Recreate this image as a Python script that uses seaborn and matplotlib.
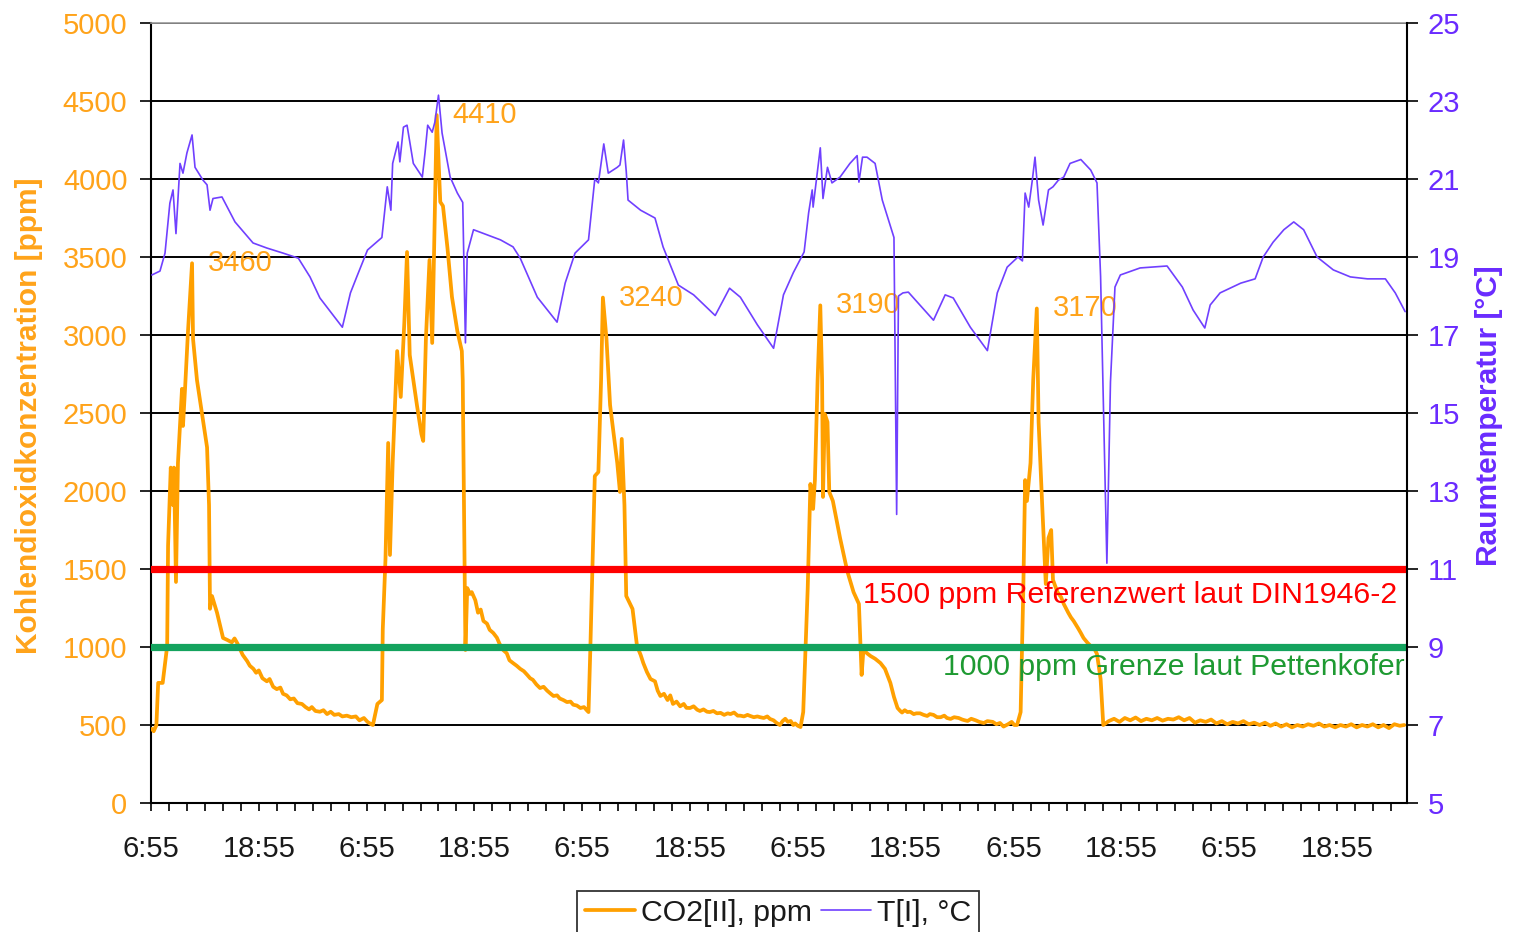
import numpy as np
import pandas as pd
import matplotlib
matplotlib.use("Agg")
import matplotlib.pyplot as plt
from matplotlib.ticker import FixedLocator, NullFormatter
import seaborn as sns

# ---------------- data (hours after 6:55 on day 1) ----------------
# CO2 readings, one block per day
day1_hours = [0.1, 0.3, 0.6, 0.8, 1.3, 1.8, 1.9, 2.2, 2.45, 2.56, 2.78, 3.0, 3.45, 3.56, 3.79, 4.12,
              4.57, 4.68, 5.12, 5.68, 6.24, 6.46, 6.57, 6.79, 7.35,
              8.02, 8.5, 9.0, 9.3, 9.6, 10.2, 10.7, 11.0, 11.4, 11.7, 12.0, 12.4, 12.9, 13.2, 13.6,
              14.0, 14.4, 14.7, 15.1, 15.5, 15.9, 16.3, 16.8, 17.2, 17.6, 17.9, 18.3, 18.8, 19.2,
              19.6, 20.0, 20.4, 20.9, 21.3, 21.8, 22.3, 22.8, 23.2, 23.7, 24.1, 24.5, 24.7]
day1_ppm = [475, 460, 500, 770, 770, 1006, 1650, 2150, 1910, 2150, 1417, 2180, 2655, 2417, 2655, 3025,
            3460, 2975, 2710, 2495, 2280, 1910, 1245, 1327, 1220,
            1058, 1045, 1030, 1055, 1025, 950, 910, 880, 860, 835, 850, 800, 780, 795, 745,
            730, 740, 700, 690, 665, 670, 640, 635, 615, 600, 615, 590, 585, 595,
            570, 585, 565, 570, 555, 560, 550, 555, 530, 545, 520, 505, 500]

day2_hours = [25.2, 25.7, 25.8, 26.1, 26.4, 26.6, 26.9, 27.4, 27.8, 28.2, 28.5, 28.8, 29.6, 30.1,
              30.3, 30.6, 31.0, 31.3, 31.5, 31.8, 32.2, 32.5, 33.0, 33.5, 34.1, 34.6, 34.7, 35.0,
              35.2, 35.5, 35.7, 36.1, 36.4, 36.7, 37.0, 37.4, 37.7, 38.1, 38.5, 38.8, 39.2, 39.6,
              39.9, 40.3, 40.7, 41.1, 41.5, 41.9, 42.2, 42.5, 42.9, 43.3, 43.7, 44.1, 44.5, 44.8,
              45.2, 45.5, 45.9, 46.3, 46.7, 47.0, 47.4, 47.8, 48.2, 48.5, 48.7]
day2_ppm = [635, 660, 1115, 1564, 2308, 1590, 2180, 2897, 2603, 3083, 3532, 2872, 2551, 2365,
            2321, 2975, 3481, 2949, 3506, 4410, 3853, 3827, 3558, 3244, 3025, 2897, 2710, 981,
            1378, 1340, 1352, 1300, 1220, 1240, 1167, 1150, 1110, 1090, 1060, 1020, 981, 960,
            915, 897, 880, 860, 845, 820, 800, 790, 760, 737, 745, 720, 700, 686,
            690, 670, 660, 647, 650, 630, 625, 609, 615, 595, 583]

day3_hours = [48.9, 49.2, 49.4, 49.8, 50.1, 50.3, 50.7, 51.1, 51.9, 52.2, 52.4, 52.7,
              52.9, 53.3, 53.6, 54.1, 54.5, 54.8, 55.2, 55.6, 56.1, 56.4, 56.7, 57.1, 57.5, 57.8,
              58.1, 58.5, 58.9, 59.3, 59.6, 60.0, 60.4, 60.8, 61.1, 61.5, 61.9, 62.2, 62.6, 63.0,
              63.4, 63.8, 64.2, 64.5, 64.9, 65.3, 65.6, 66.0, 66.4, 66.7, 67.1, 67.5, 67.8, 68.2,
              68.6, 68.9, 69.3, 69.6, 70.0, 70.3, 70.6, 70.9, 71.2, 71.5, 71.7, 72.0, 72.3]
day3_ppm = [981, 1648, 2096, 2122, 2712, 3240, 2975, 2551, 2180, 1994, 2334, 1910,
            1327, 1280, 1244, 1006, 950, 897, 840, 795, 780, 720, 686, 700, 660, 690,
            635, 650, 620, 635, 610, 609, 620, 598, 590, 600, 585, 583, 590, 575,
            578, 565, 575, 570, 580, 560, 560, 555, 565, 558, 550, 555, 550, 545,
            555, 539, 530, 515, 500, 525, 540, 520, 526, 500, 510, 495, 487]

day4_hours = [72.6, 73.1, 73.4, 73.7, 73.9, 74.2, 74.5, 74.7, 74.8, 75.0, 75.3, 75.5, 75.9, 76.7,
              77.5, 78.2, 78.8, 79.1,
              79.3, 79.7, 80.1, 80.6, 81.2, 81.7, 82.3, 82.7, 83.1, 83.4, 83.6, 83.9, 84.2, 84.5,
              84.9, 85.2, 85.6, 86.0, 86.4, 86.7, 87.1, 87.5, 87.9, 88.3, 88.6, 89.0, 89.4, 89.9,
              90.3, 90.6, 90.9, 91.3, 91.8, 92.2, 92.7, 93.1, 93.7, 94.1, 94.5, 94.9, 95.4, 95.8,
              96.1, 96.4]
day4_ppm = [583, 1378, 2045, 1885, 2070, 2712, 3190, 2712, 1962, 2494, 2442, 1994, 1936, 1699,
            1487, 1352, 1276, 821,
            981, 960, 942, 925, 897, 860, 770, 680, 609, 590, 580, 595, 583, 585,
            570, 575, 575, 565, 558, 570, 565, 550, 550, 560, 545, 539, 550, 545,
            535, 530, 526, 540, 530, 520, 513, 525, 520, 505, 513, 490, 505, 520,
            500, 500]

day5_hours = [96.8, 97.1, 97.3, 97.5, 97.9, 98.2, 98.6, 98.8, 99.2, 99.6, 99.9, 100.2, 100.4,
              100.9, 101.3, 101.6, 102.1, 102.4, 102.7, 103.2, 103.5, 103.8, 104.2, 104.6, 105.0,
              105.3, 105.7, 106.0]
day5_ppm = [583, 1378, 2070, 1936, 2180, 2712, 3170, 2442, 1910, 1404, 1699, 1750, 1430,
            1352, 1320, 1276, 1220, 1190, 1167, 1120, 1090, 1058, 1030, 1006, 990,
            955, 795, 500]

tail_hours = [106.6, 107.2, 107.8, 108.4, 109.0, 109.6, 110.2, 110.8, 111.4, 112.0, 112.6, 113.2,
              113.8, 114.4, 115.0, 115.6, 116.2, 116.8, 117.4, 118.0, 118.6, 119.2, 119.8, 120.4,
              121.0, 121.6, 122.2, 122.8, 123.4, 124.0, 124.6, 125.2, 125.8, 126.4, 127.0, 127.6,
              128.2, 128.8, 129.4, 130.0, 130.6, 131.2, 131.8, 132.4, 133.0, 133.6, 134.2, 134.8,
              135.4, 136.0, 136.6, 137.2, 137.8, 138.4, 139.0, 139.5]
tail_ppm = [525, 540, 520, 545, 530, 548, 525, 540, 530, 545, 528, 540,
            535, 550, 530, 545, 515, 530, 520, 535, 510, 525, 505, 520,
            510, 525, 505, 515, 500, 515, 495, 510, 490, 505, 485, 500,
            490, 505, 495, 510, 490, 500, 485, 500, 490, 505, 485, 500,
            490, 505, 485, 500, 480, 505, 495, 500]

temp_hours = [0.1, 1.0, 1.56, 2.1, 2.45, 2.78, 3.23, 3.56, 4.0, 4.57, 4.9, 5.79, 6.24, 6.57, 6.9, 7.9, 9.35,
              11.36, 12.9, 14.7, 16.4, 17.7, 18.8, 20.3, 21.3, 22.2, 22.9, 24.1, 25.7, 26.3, 26.7, 26.9,
              27.5, 27.7, 28.1, 28.5, 29.2, 30.2, 30.5, 30.8, 31.3, 31.6, 32.0, 32.4, 33.3, 34.1, 34.7,
              35.0, 35.2, 35.9, 38.9, 40.3, 41.1, 43.0, 45.2, 46.1, 47.2, 48.7, 49.4, 49.8, 50.4, 50.9,
              51.9, 52.2, 52.6, 52.9, 53.1, 54.5, 56.1, 57.0, 58.7, 60.4, 62.8, 64.4, 65.6, 67.5, 69.3,
              70.4, 71.5, 72.7, 73.2, 73.6, 73.7, 74.1, 74.5, 74.8, 75.3, 75.8, 76.7, 77.8, 78.6, 78.8,
              79.2, 79.7, 80.6, 81.4, 82.7, 83.0, 83.2, 83.7, 84.3, 87.1, 88.4, 89.3, 91.2, 93.1, 94.2,
              95.3, 96.5, 97.0, 97.3, 97.7, 98.1, 98.4, 98.8, 99.3, 99.9, 100.4, 101.0, 101.6, 102.3,
              103.5, 104.6, 105.3, 105.7, 106.4, 106.8, 107.3, 107.9, 110.1, 113.1, 114.8, 116.0, 117.3,
              117.9, 119.0, 121.3, 122.9, 123.8, 124.9, 126.1, 127.2, 128.3, 129.8, 131.6, 133.5, 135.4,
              137.4, 138.5, 139.6]
temp_c = [18.54, 18.64, 19.1, 20.38, 20.72, 19.6, 21.4, 21.15, 21.67, 22.13, 21.3, 20.97, 20.85, 20.2, 20.5, 20.54, 19.9,
          19.36, 19.23, 19.1, 18.97, 18.49, 17.95, 17.5, 17.2, 18.08, 18.49, 19.18, 19.5, 20.8, 20.2, 21.4,
          21.95, 21.44, 22.33, 22.38, 21.4, 21.05, 21.67, 22.38, 22.2, 22.46, 23.15, 22.18, 21.05, 20.64, 20.4,
          16.8, 19.1, 19.7, 19.44, 19.26, 18.97, 17.97, 17.33, 18.33, 19.1, 19.44, 21.0, 20.9, 21.9, 21.15,
          21.3, 21.36, 22.0, 21.2, 20.46, 20.2, 20.0, 19.26, 18.28, 18.03, 17.5, 18.2, 17.97, 17.26, 16.66,
          18.03, 18.6, 19.13, 20.13, 20.72, 20.28, 21.05, 21.8, 20.5, 21.3, 20.9, 21.05, 21.4, 21.6, 20.92,
          21.56, 21.56, 21.4, 20.46, 19.5, 12.4, 18.0, 18.08, 18.1, 17.38, 18.03, 17.95, 17.2, 16.6, 18.08,
          18.74, 19.0, 18.9, 20.64, 20.28, 20.97, 21.56, 20.46, 19.82, 20.72, 20.8, 20.97, 21.05, 21.4,
          21.5, 21.23, 20.9, 18.5, 11.15, 15.8, 18.23, 18.54, 18.72, 18.77, 18.23, 17.64, 17.18,
          17.77, 18.08, 18.33, 18.44, 19.0, 19.38, 19.7, 19.9, 19.7, 19.0, 18.67, 18.49, 18.44,
          18.44, 18.08, 17.6]

peak_labels = [3460, 4410, 3240, 3190, 3170]
ref_levels = [1500, 1000]
ref_texts = ["1500 ppm Referenzwert laut DIN1946-2", "1000 ppm Grenze laut Pettenkofer"]
x_tick_labels = ["6:55", "18:55", "6:55", "18:55", "6:55", "18:55",
                 "6:55", "18:55", "6:55", "18:55", "6:55", "18:55"]
co2_ticks = [0, 500, 1000, 1500, 2000, 2500, 3000, 3500, 4000, 4500, 5000]
temp_ticks = [5, 7, 9, 11, 13, 15, 17, 19, 21, 23, 25]
series_names = ["CO2[II], ppm", "T[I], °C"]

co2_hours = day1_hours + day2_hours + day3_hours + day4_hours + day5_hours + tail_hours
co2_ppm = day1_ppm + day2_ppm + day3_ppm + day4_ppm + day5_ppm + tail_ppm

# ---------------- style ----------------
sns.set_style("white")
plt.rcParams["font.family"] = ["Liberation Sans", "DejaVu Sans"]
FS = 21

ORANGE = "#FFA000"
ORANGE_TXT = "#FFA31A"
PURPLE = "#7040FF"
PURPLE_TXT = "#6A2BFF"
RED = "#FF0000"
GREEN = "#14A35E"
GREEN_TXT = "#1E9A32"

fig = plt.figure(figsize=(15.13, 9.32), dpi=100)
ax = fig.add_axes([0.0998, 0.1384, 0.8301, 0.8369])
ax2 = ax.twinx()

co2_df = pd.DataFrame({"h": co2_hours, "ppm": co2_ppm})
t_df = pd.DataFrame({"h": temp_hours, "T": temp_c})

sns.lineplot(data=co2_df, x="h", y="ppm", ax=ax, color=ORANGE, linewidth=2.7,
             sort=False, legend=False, label=series_names[0], zorder=3)
sns.lineplot(data=t_df, x="h", y="T", ax=ax2, color=PURPLE, linewidth=1.2,
             sort=False, legend=False, label=series_names[1], zorder=3)

# reference lines
ref_colors = [RED, GREEN]
ref_text_colors = [RED, GREEN_TXT]
ref_text_offsets = [-167, -128]
ref_text_x = [0.9925, 0.9978]
for lev, c, tc, txt, off, xt in zip(ref_levels, ref_colors, ref_text_colors, ref_texts,
                                    ref_text_offsets, ref_text_x):
    ax.axhline(lev, color=c, linewidth=5.2, zorder=4)
    ax.text(xt, lev + off, txt, transform=ax.get_yaxis_transform(), ha="right", va="center",
            color=tc, fontsize=21.8, zorder=5)

# peak annotations
for val in peak_labels:
    i = co2_ppm.index(val)
    ax.annotate(str(val), xy=(co2_hours[i], val), xytext=(11.5, 0), textcoords="offset points",
                ha="left", va="center", color=ORANGE_TXT, fontsize=FS, zorder=5)

# axes limits & ticks
ax.set_xlim(0, 139.8)
ax.set_ylim(0, 5000)
ax2.set_ylim(5, 25)

major_x = [12 * k for k in range(len(x_tick_labels))]
minor_x = [2 * k for k in range(70) if (2 * k) % 12 != 0]
ax.xaxis.set_major_locator(FixedLocator(major_x))
ax.set_xticklabels(x_tick_labels)
ax.xaxis.set_minor_locator(FixedLocator(minor_x))
ax.xaxis.set_minor_formatter(NullFormatter())
ax.tick_params(axis="x", which="both", direction="out", length=6, width=1.2, color="black",
               bottom=True, labelsize=FS, labelcolor="#1a1a1a", pad=17)

ax.set_yticks(co2_ticks)
ax.set_yticklabels([str(v) for v in co2_ticks])
ax.tick_params(axis="y", direction="out", length=8, width=1.2, color="black", left=True,
               labelsize=FS, labelcolor=ORANGE_TXT, pad=9)
ax2.set_yticks(temp_ticks)
ax2.set_yticklabels([str(v) for v in temp_ticks])
ax2.tick_params(axis="y", direction="out", length=8, width=1.2, color="black", right=True,
                labelsize=FS, labelcolor=PURPLE_TXT, pad=7)

ax.set_xlabel("")
ax.set_ylabel("Kohlendioxidkonzentration [ppm]", color=ORANGE_TXT, fontsize=21.5, fontweight="bold")
ax.yaxis.set_label_coords(-0.086, 0.497)
ax2.set_ylabel("Raumtemperatur [°C]", color=PURPLE_TXT, fontsize=21.5, fontweight="bold",
               rotation=90)
ax2.yaxis.set_label_coords(1.054, 0.497)

# grid
ax.yaxis.grid(True, color="black", linewidth=1.4)
ax.xaxis.grid(False)
ax.set_axisbelow(True)

# spines
for s in ["left", "bottom"]:
    ax.spines[s].set_color("black")
    ax.spines[s].set_linewidth(1.5)
ax.spines["right"].set_visible(False)
ax.spines["top"].set_color("#9a9a9a")
ax.spines["top"].set_linewidth(1.2)
ax2.spines["right"].set_color("black")
ax2.spines["right"].set_linewidth(1.5)
for s in ["left", "bottom", "top"]:
    ax2.spines[s].set_visible(False)

for a in (ax, ax2):
    leg = a.get_legend()
    if leg is not None:
        leg.remove()

# legend
h1, l1 = ax.get_legend_handles_labels()
h2, l2 = ax2.get_legend_handles_labels()
handles = [h for h, l in zip(h1 + h2, l1 + l2) if l in series_names]
labels = [l for l in l1 + l2 if l in series_names]
leg = fig.legend(handles, labels, loc="upper center", bbox_to_anchor=(0.5143, 0.0440), ncol=2,
                 frameon=True, fancybox=False, shadow=False, edgecolor="black", fontsize=21.8,
                 handlelength=1.65, handletextpad=0.2, columnspacing=0.3, borderpad=0.25,
                 borderaxespad=0.0)
leg.get_frame().set_linewidth(1.3)
for t in leg.get_texts():
    t.set_color("#1a1a1a")

fig.savefig("out.png", dpi=100)
